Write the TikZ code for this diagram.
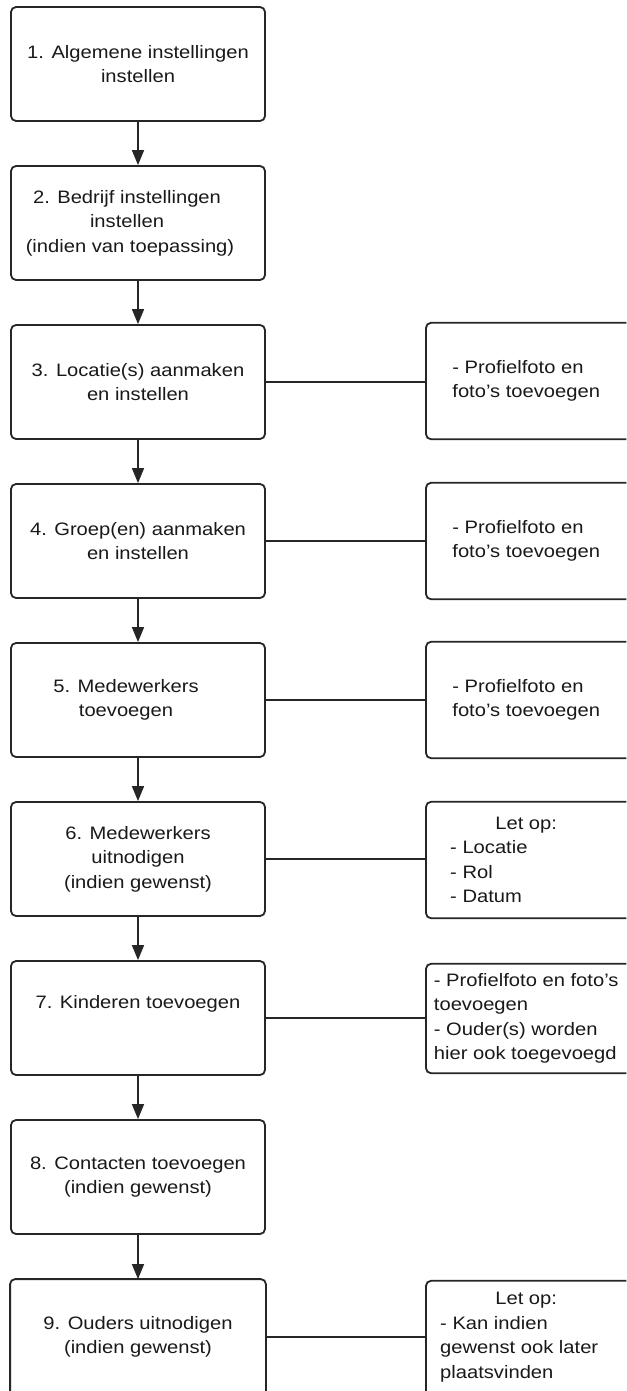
\documentclass[tikz,border=0pt]{standalone}
\usepackage{fontspec}
\setmainfont{Liberation Sans}[FakeStretch=1.12]
\usetikzlibrary{arrows.meta}
\newcommand\openframe[1]{\draw[frame] (#1.north east) -- (#1.north west) -- (#1.south west) -- (#1.south east);}
\newcommand\cornerframe[1]{\draw[frame] (#1.north east) -- (#1.north west) -- (#1.south west);}
\newcommand\bottomlessframe[1]{\draw[frame] (#1.south west) -- (#1.north west) -- (#1.north east) -- (#1.south east);}
\begin{document}
\begin{tikzpicture}[x=1pt,y=-1pt,
  frame/.style={draw=black!85, line width=1.8pt, rounded corners=5pt},
  textbase/.style={text=black!90, font=\fontsize{18}{24.5}\selectfont, inner sep=0pt},
  stepbox/.style={frame, textbase, minimum width=254pt, minimum height=114pt, align=center},
  notebox/.style={textbase, minimum width=200pt, minimum height=114pt, anchor=west, align=left},
  flow/.style={draw=black!85, line width=1.5pt, -{Triangle[length=15pt,width=12pt]}},
  link/.style={draw=black!85, line width=1.5pt}]
\useasboundingbox (0,0) rectangle (626,1391);
\fill[white] (0,0) rectangle (626,1391);
% main steps
\node[stepbox] (s1) at (138,64) {1. Algemene instellingen\\instellen};
\node[stepbox] (s2) at (138,223) {2. Bedrijf instellingen\kern22pt\\instellen\kern22pt\\(indien van toepassing)\kern16pt};
\node[stepbox] (s3) at (138,382) {3. Locatie(s) aanmaken\\en instellen};
\node[stepbox] (s4) at (138,541) {4. Groep(en) aanmaken\\en instellen};
\node[stepbox] (s5) at (138,700) {5. Medewerkers\kern24pt\\toevoegen\kern24pt};
\node[stepbox] (s6) at (138,859) {6. Medewerkers\\uitnodigen\\(indien gewenst)};
\node[stepbox, text depth=32pt] (s7) at (138,1018) {7. Kinderen toevoegen};
\node[stepbox] (s8) at (138,1177) {8. Contacten toevoegen\\(indien gewenst)};
\node[stepbox, draw=none, minimum height=114pt] (s9) at (138,1337) {9. Ouders uitnodigen\\(indien gewenst)};
\bottomlessframe{s9}
% notes (boxes run past the right edge of the picture)
\node[notebox, minimum height=116pt] (n3) at (426,381) {- Profielfoto en\\foto's toevoegen};
\node[notebox, minimum height=116pt] (n4) at (426,541) {- Profielfoto en\\foto's toevoegen};
\node[notebox, minimum height=116pt] (n5) at (426,700) {- Profielfoto en\\foto's toevoegen};
\node[notebox, minimum height=116pt] (n6) at (426,860) {\makebox[152pt]{Let op:}\\- Locatie\\- Rol\\- Datum};
\node[notebox, minimum height=109pt] (n7) at (426,1018.5) {- Profielfoto en foto's\\toevoegen\\- Ouder(s) worden\\hier ook toegevoegd};
\node[notebox, minimum height=112pt] (n9) at (426,1337) {\makebox[172pt]{Let op:}\\- Kan indien\\gewenst ook later\\plaatsvinden};
\openframe{n3}
\openframe{n4}
\openframe{n5}
\openframe{n6}
\openframe{n7}
\cornerframe{n9}
% flow arrows
\draw[flow] (s1.south) -- (s2.north);
\draw[flow] (s2.south) -- (s3.north);
\draw[flow] (s3.south) -- (s4.north);
\draw[flow] (s4.south) -- (s5.north);
\draw[flow] (s5.south) -- (s6.north);
\draw[flow] (s6.south) -- (s7.north);
\draw[flow] (s7.south) -- (s8.north);
\draw[flow] (s8.south) -- (s9.north);
% links to notes
\draw[link] (s3.east) -- (s3.east -| n3.west);
\draw[link] (s4.east) -- (s4.east -| n4.west);
\draw[link] (s5.east) -- (s5.east -| n5.west);
\draw[link] (s6.east) -- (s6.east -| n6.west);
\draw[link] (s7.east) -- (s7.east -| n7.west);
\draw[link] (s9.east) -- (s9.east -| n9.west);
\end{tikzpicture}
\end{document}
